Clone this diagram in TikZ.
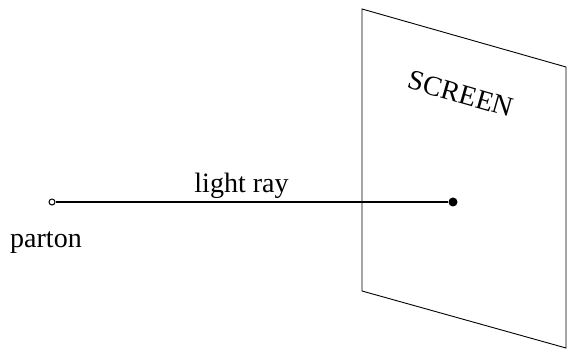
\documentclass[tikz,border=0pt]{standalone}
\usepackage{fontspec}
\setmainfont{Liberation Serif}
\begin{document}
\begin{tikzpicture}[x=1pt,y=1pt,
    every node/.style={font=\fontsize{28}{34}\selectfont},
    endpt/.style={circle,inner sep=0pt}]

\useasboundingbox (0,0) rectangle (568,350);

% the screen
\draw[line width=0.9pt] (362,341) -- (566,283) -- (566,2) -- (362,59) -- cycle;
\node[rotate=-16] (screen) at (461,256) {SCREEN};

% the ray
\node[endpt,draw,line width=1pt,minimum size=6pt] (parton) at (52,148) {};
\node[endpt,fill=black,minimum size=9pt] (hit) at (453,148) {};
\draw[line width=1.6pt] (parton) -- (hit);

\node[anchor=base] (raylabel) at (241.5,157) {light ray};
\node[anchor=base] (partonlabel) at (46,102.7) {parton};

\end{tikzpicture}
\end{document}
